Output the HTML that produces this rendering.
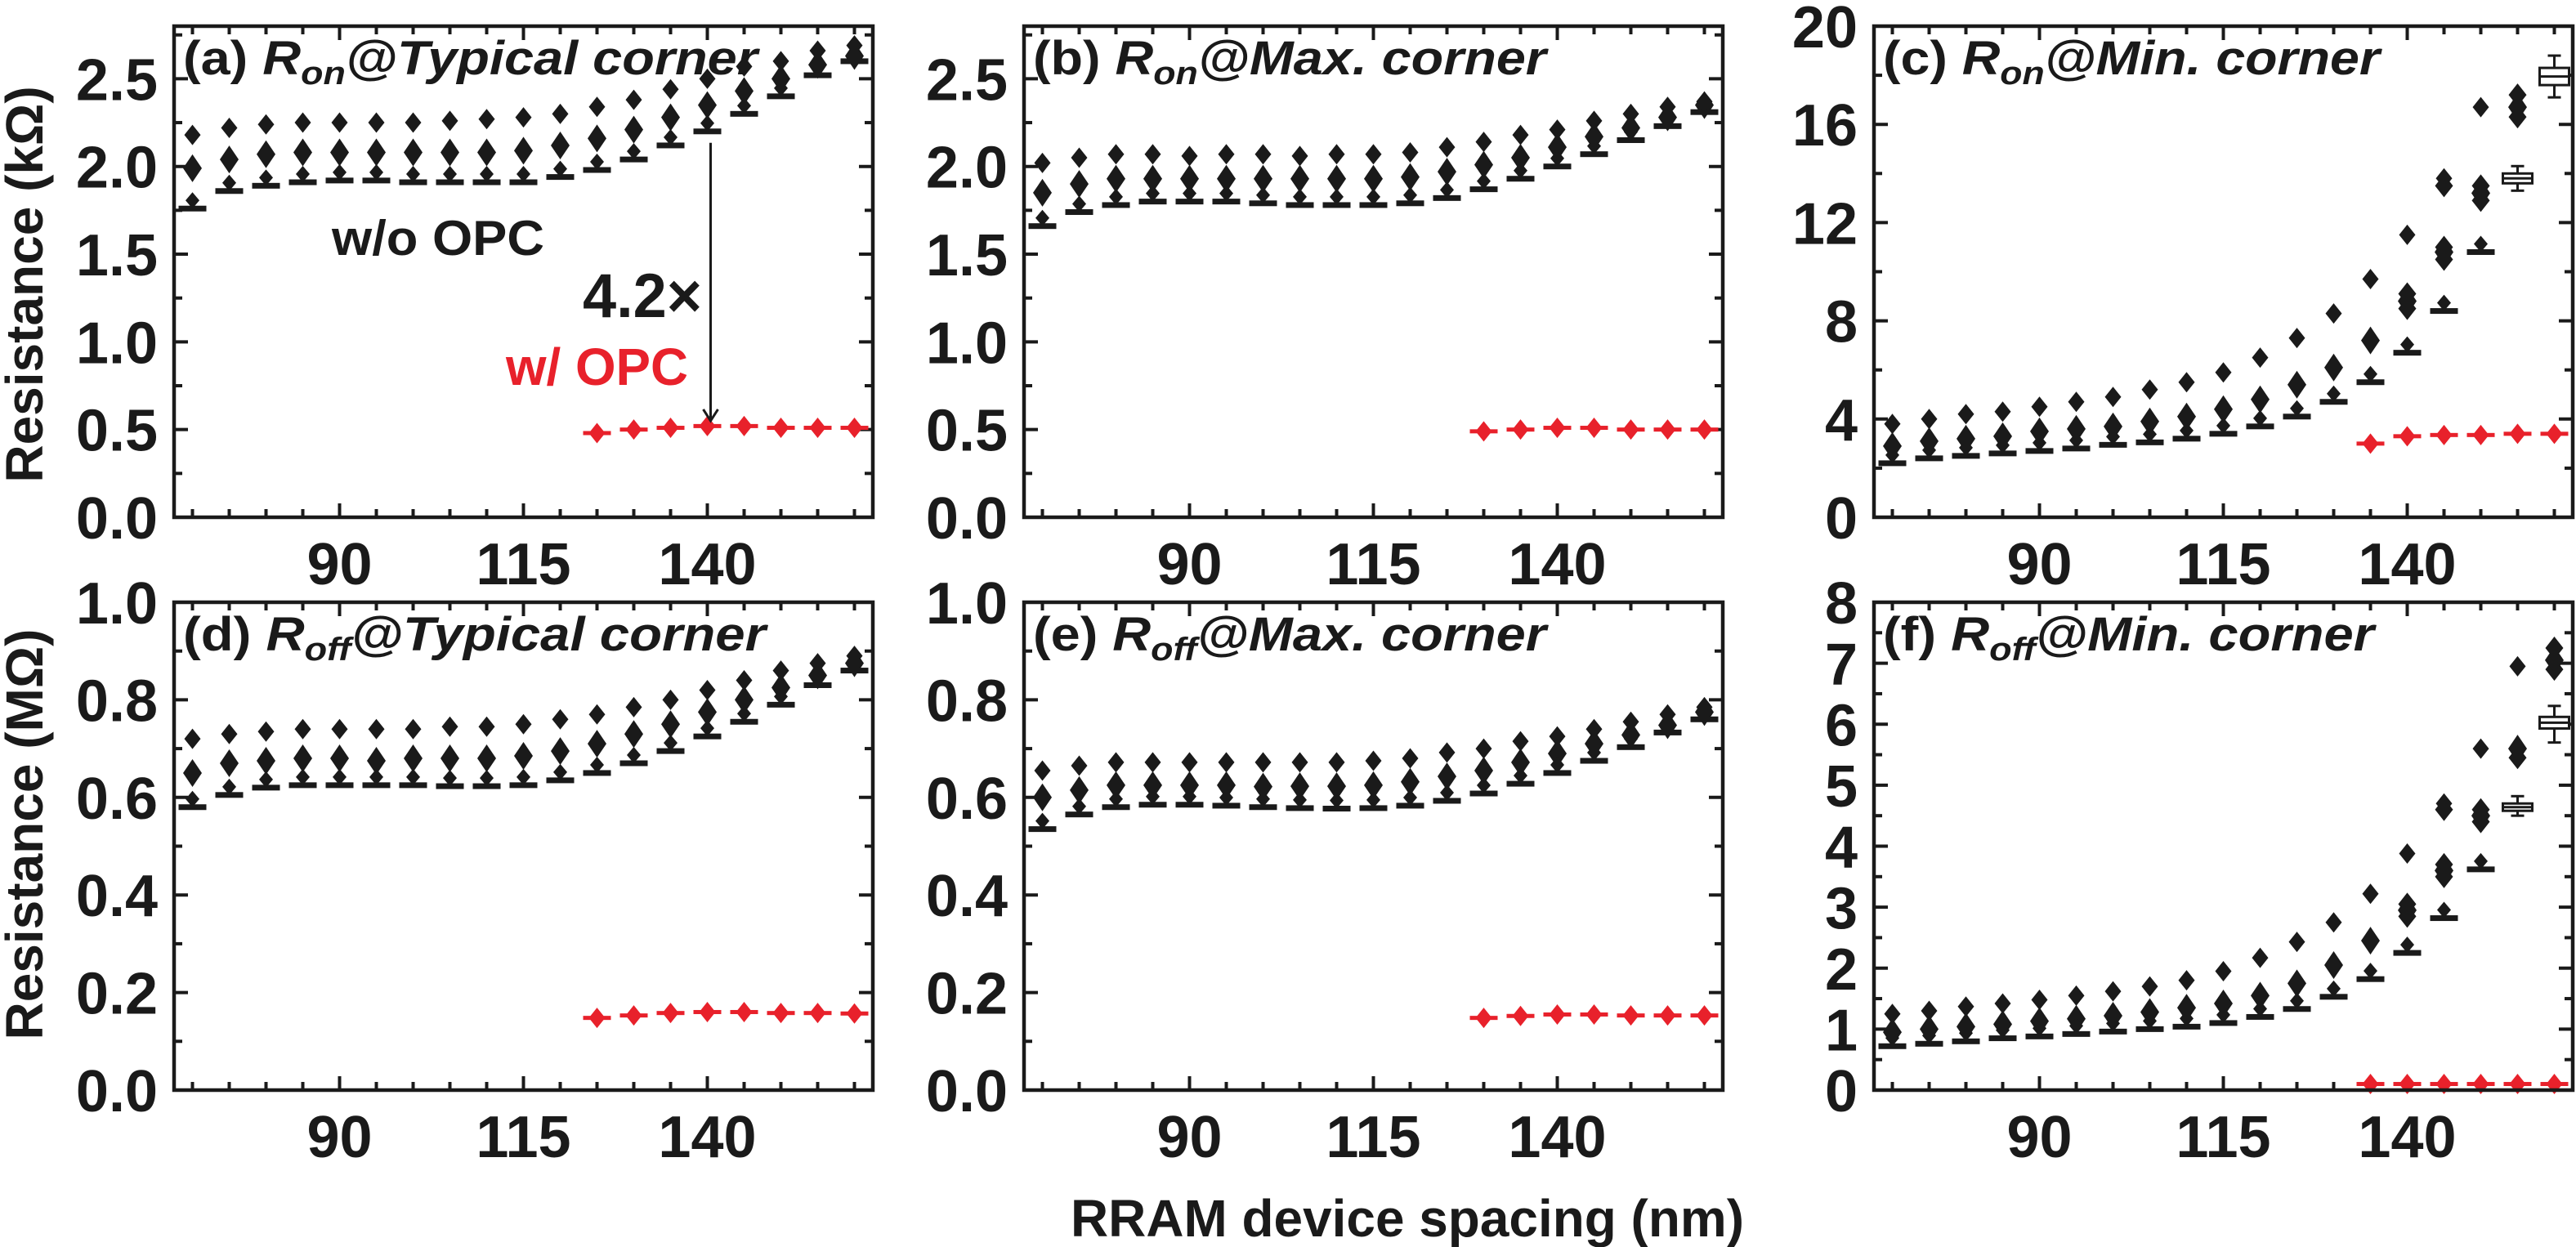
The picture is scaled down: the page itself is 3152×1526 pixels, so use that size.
<!DOCTYPE html>
<html><head><meta charset="utf-8"><style>
html,body{margin:0;padding:0;background:#fff;}
svg{display:block;font-family:"Liberation Sans",Arial,sans-serif;font-weight:bold;}
</style></head><body>
<svg id="fig" width="3152" height="1526" viewBox="0 0 3152 1526" xmlns="http://www.w3.org/2000/svg">
<rect x="0" y="0" width="3152" height="1526" fill="#fff"/>
<text x="30" y="348" transform="rotate(-90 30 348)" dy="22" text-anchor="middle" font-size="64" fill="#1a1a1a">Resistance (kΩ)</text>
<text x="30" y="1021" transform="rotate(-90 30 1021)" dy="22" text-anchor="middle" font-size="64" fill="#1a1a1a">Resistance (MΩ)</text>
<text x="1722" y="1513" text-anchor="middle" font-size="64" fill="#1a1a1a" textLength="824" lengthAdjust="spacingAndGlyphs">RRAM device spacing (nm)</text>
</svg>
<script>
const spacing = [70,75,80,85,90,95,100,105,110,115,120,125,130,135,140,145,150,155,160];
const xTickLabels = ["90","115","140"];
const xTickValues = [90,115,140];

const aBox = [1.76,1.86,1.89,1.91,1.92,1.92,1.91,1.91,1.91,1.91,1.94,1.98,2.04,2.12,2.20,2.30,2.40,2.52,2.60];
const aMid = [1.99,2.04,2.07,2.08,2.08,2.08,2.08,2.08,2.08,2.09,2.12,2.16,2.21,2.28,2.35,2.43,2.50,2.58,2.63];
const aHi  = [2.18,2.22,2.24,2.25,2.25,2.25,2.25,2.26,2.27,2.28,2.30,2.34,2.38,2.44,2.50,2.57,2.60,2.66,2.69];
const aRed = [null,null,null,null,null,null,null,null,null,null,null,0.48,0.50,0.51,0.52,0.52,0.51,0.51,0.51];

const bBox = [1.66,1.74,1.78,1.80,1.80,1.80,1.79,1.78,1.78,1.78,1.79,1.82,1.87,1.93,2.00,2.07,2.15,2.23,2.31];
const bMid = [1.85,1.90,1.93,1.93,1.93,1.93,1.93,1.93,1.93,1.93,1.94,1.97,2.01,2.05,2.11,2.17,2.22,2.28,2.35];
const bHi  = [2.02,2.05,2.07,2.07,2.06,2.07,2.07,2.06,2.07,2.07,2.08,2.11,2.14,2.18,2.21,2.26,2.30,2.34,2.37];
const bRed = [null,null,null,null,null,null,null,null,null,null,null,null,0.49,0.50,0.51,0.51,0.50,0.50,0.50];

const cBox = [2.2,2.4,2.5,2.6,2.7,2.8,2.95,3.05,3.2,3.4,3.7,4.1,4.7,5.5,6.7,8.4,10.8,13.8,17.9];
const cMid = [2.9,3.1,3.2,3.3,3.5,3.6,3.7,3.9,4.1,4.4,4.8,5.4,6.1,7.2,8.8,10.8,13.2,16.7,null];
const cHi  = [3.8,4.0,4.2,4.3,4.5,4.7,4.9,5.2,5.5,5.9,6.5,7.3,8.3,9.7,11.5,13.8,16.7,null,null];
const cRed = [null,null,null,null,null,null,null,null,null,null,null,null,null,3.0,3.3,3.35,3.35,3.4,3.4];
const cExtraX = [140,140,145,145,145,150,150,155,155];
const cExtraY = [8.5,9.1,10.5,11.0,13.5,12.9,13.5,16.3,17.2];
const cBigX = [155,160];
const cQ1 = [13.6,17.6];
const cQ3 = [14.0,18.3];
const cWlo = [13.3,17.1];
const cWhi = [14.3,18.8];

const dBox = [0.58,0.605,0.62,0.625,0.625,0.625,0.625,0.623,0.623,0.625,0.635,0.65,0.67,0.695,0.725,0.755,0.79,0.83,0.86];
const dMid = [0.65,0.67,0.675,0.68,0.68,0.675,0.68,0.68,0.68,0.685,0.695,0.71,0.73,0.75,0.775,0.80,0.825,0.85,0.875];
const dHi  = [0.72,0.73,0.735,0.74,0.74,0.74,0.74,0.745,0.745,0.75,0.76,0.77,0.785,0.80,0.82,0.84,0.86,0.875,0.89];
const dRed = [null,null,null,null,null,null,null,null,null,null,null,0.148,0.153,0.158,0.16,0.16,0.158,0.158,0.157];

const eBox = [0.535,0.565,0.58,0.585,0.585,0.583,0.58,0.578,0.577,0.578,0.583,0.593,0.608,0.628,0.65,0.675,0.703,0.733,0.76];
const eMid = [0.60,0.615,0.625,0.625,0.625,0.625,0.622,0.623,0.623,0.625,0.632,0.643,0.655,0.672,0.69,0.71,0.728,0.748,0.775];
const eHi  = [0.655,0.665,0.672,0.672,0.672,0.672,0.672,0.672,0.672,0.675,0.68,0.692,0.70,0.715,0.725,0.74,0.755,0.77,0.785];
const eRed = [null,null,null,null,null,null,null,null,null,null,null,null,0.148,0.152,0.155,0.155,0.153,0.153,0.153];

const fBox = [0.72,0.76,0.80,0.85,0.88,0.92,0.96,1.00,1.04,1.10,1.20,1.33,1.53,1.82,2.25,2.82,3.62,4.63,6.0];
const fMid = [0.95,1.00,1.04,1.08,1.13,1.17,1.22,1.28,1.35,1.42,1.55,1.75,2.05,2.45,2.95,3.60,4.50,5.60,7.05];
const fHi  = [1.25,1.30,1.37,1.42,1.48,1.55,1.62,1.70,1.80,1.95,2.17,2.43,2.75,3.22,3.88,4.70,5.60,6.95,null];
const fRed = [null,null,null,null,null,null,null,null,null,null,null,null,null,0.10,0.10,0.10,0.10,0.10,0.10];
const fExtraX = [140,140,145,145,145,150,150,155,160,160];
const fExtraY = [2.85,3.05,3.5,3.7,4.6,4.4,4.6,5.45,6.9,7.25];
const fBigX = [155,160];
const fQ1 = [4.58,5.93];
const fQ3 = [4.70,6.12];
const fWlo = [4.50,5.70];
const fWhi = [4.82,6.30];

const aYTicks = ["0.0","0.5","1.0","1.5","2.0","2.5"];
const cYTicks = ["0","4","8","12","16","20"];
const dYTicks = ["0.0","0.2","0.4","0.6","0.8","1.0"];
const fYTicks = ["0","1","2","3","4","5","6","7","8"];

const NS = "http://www.w3.org/2000/svg";
const svg = document.getElementById('fig');
const BLACK = "#1a1a1a", RED = "#e8212b";
const XMIN = 67.5, XMAX = 162.5, W = 855;

function mk(tag, attrs, parent){
  const e = document.createElementNS(NS, tag);
  for (const k in attrs) e.setAttribute(k, attrs[k]);
  (parent||svg).appendChild(e);
  return e;
}

const panels = [
  {id:'a', left:213, top:32, bottom:633, ymax:2.8, major:0.5, minor:0.25, ticks:aYTicks, box:aBox, mid:aMid, hi:aHi, red:aRed, lab:'(a) ', sub:'on', rest:'@Typical corner', tl:703},
  {id:'b', left:1253, top:32, bottom:633, ymax:2.8, major:0.5, minor:0.25, ticks:aYTicks, box:bBox, mid:bMid, hi:bHi, red:bRed, lab:'(b) ', sub:'on', rest:'@Max. corner', tl:628},
  {id:'c', left:2293, top:32, bottom:633, ymax:20, major:4, minor:2, ticks:cYTicks, box:cBox, mid:cMid, hi:cHi, red:cRed, exX:cExtraX, exY:cExtraY, bigX:cBigX, q1:cQ1, q3:cQ3, wlo:cWlo, whi:cWhi, lab:'(c) ', sub:'on', rest:'@Min. corner', tl:608},
  {id:'d', left:213, top:737, bottom:1334, ymax:1.0, major:0.2, minor:0.1, ticks:dYTicks, box:dBox, mid:dMid, hi:dHi, red:dRed, lab:'(d) ', sub:'off', rest:'@Typical corner', tl:713},
  {id:'e', left:1253, top:737, bottom:1334, ymax:1.0, major:0.2, minor:0.1, ticks:dYTicks, box:eBox, mid:eMid, hi:eHi, red:eRed, lab:'(e) ', sub:'off', rest:'@Max. corner', tl:628},
  {id:'f', left:2293, top:737, bottom:1334, ymax:8, major:1, minor:0.5, ticks:fYTicks, box:fBox, mid:fMid, hi:fHi, red:fRed, exX:fExtraX, exY:fExtraY, bigX:fBigX, q1:fQ1, q3:fQ3, wlo:fWlo, whi:fWhi, lab:'(f) ', sub:'off', rest:'@Min. corner', tl:601}
];

function diamond(g, cx, cy, w, h, fill, name){
  const p = mk('path', {d:`M${cx} ${cy-h/2}L${cx+w/2} ${cy}L${cx} ${cy+h/2}L${cx-w/2} ${cy}Z`, fill:fill}, g);
  
  
  return p;
}

panels.forEach(P => {
  const g = mk('g', {});
  
  
  const xs = v => P.left + (v - XMIN) / (XMAX - XMIN) * W;
  const ys = v => P.bottom - v / P.ymax * (P.bottom - P.top);
  const R = P.left + W;

  const tg = mk('g', {stroke:BLACK, 'stroke-width':4}, g);
  
  
  spacing.forEach(v => {
    const major = xTickValues.includes(v);
    const L = major ? 17 : 10;
    mk('line', {x1:xs(v), x2:xs(v), y1:P.bottom, y2:P.bottom-L}, tg);
    mk('line', {x1:xs(v), x2:xs(v), y1:P.top, y2:P.top+L}, tg);
  });
  const nMinor = Math.round(P.ymax / P.minor);
  for (let k = 0; k <= nMinor; k++){
    const v = k * P.minor;
    const major = Math.abs(v / P.major - Math.round(v / P.major)) < 1e-6;
    const L = major ? 17 : 10;
    mk('line', {x1:P.left, x2:P.left+L, y1:ys(v), y2:ys(v)}, tg);
    mk('line', {x1:R, x2:R-L, y1:ys(v), y2:ys(v)}, tg);
  }
  P.ticks.forEach((t, k) => {
    const v = k * P.major;
    const tx = mk('text', {x:P.left-20, y:ys(v)+26, 'text-anchor':'end', 'font-size':72, fill:BLACK}, g);
    
    
    tx.textContent = t;
  });
  xTickLabels.forEach((t, k) => {
    const tx = mk('text', {x:xs(xTickValues[k]), y:P.bottom+82, 'text-anchor':'middle', 'font-size':72, fill:BLACK}, g);
    
    
    tx.textContent = t;
  });

  spacing.forEach((x, i) => {
    const cx = xs(x);
    if (P.hi[i] != null) diamond(g, cx, ys(P.hi[i]), 20, 25, BLACK, 'outlier-high');
    if (P.mid[i] != null) diamond(g, cx, ys(P.mid[i]), 23, 34, BLACK, 'outlier-mid');
    const by = ys(P.box[i]);
    const isBig = P.bigX && P.bigX.includes(x);
    if (!isBig){
      diamond(g, cx, by-10, 17, 20, BLACK, 'outlier-low');
      const r = mk('rect', {x:cx-17, y:by-3.5, width:34, height:7, fill:BLACK}, g);
      
      
    }
  });
  if (P.exX){
    P.exX.forEach((x, k) => diamond(g, xs(x), ys(P.exY[k]), 22, 28, BLACK, 'outlier-cluster'));
  }
  if (P.bigX){
    P.bigX.forEach((x, k) => {
      const cx = xs(x);
      const bg = mk('g', {stroke:BLACK, 'stroke-width':3, fill:'#fff'}, g);
      
      
      mk('line', {x1:cx, x2:cx, y1:ys(P.whi[k]), y2:ys(P.wlo[k])}, bg);
      mk('line', {x1:cx-8, x2:cx+8, y1:ys(P.whi[k]), y2:ys(P.whi[k])}, bg);
      mk('line', {x1:cx-8, x2:cx+8, y1:ys(P.wlo[k]), y2:ys(P.wlo[k])}, bg);
      mk('rect', {x:cx-18, y:ys(P.q3[k]), width:36, height:ys(P.q1[k])-ys(P.q3[k])}, bg);
      const med = (P.q1[k] + P.q3[k]) / 2;
      mk('line', {x1:cx-18, x2:cx+18, y1:ys(med), y2:ys(med)}, bg);
    });
  }
  spacing.forEach((x, i) => {
    if (P.red[i] == null) return;
    const cx = xs(x), cy = ys(P.red[i]);
    const l = mk('rect', {x:cx-17, y:cy-2.5, width:34, height:5, fill:RED}, g);
    
    
    diamond(g, cx, cy, 20, 25, RED, 'marker-w-opc');
  });

  const fr = mk('rect', {x:P.left, y:P.top, width:W, height:P.bottom-P.top, fill:'none', stroke:BLACK, 'stroke-width':4.5}, g);
  
  

  const tt = mk('text', {x:P.left+11, y:P.top+59, 'font-size':58, fill:BLACK, textLength:P.tl, lengthAdjust:'spacingAndGlyphs'}, g);
  
  
  const s1 = mk('tspan', {}, tt); s1.textContent = P.lab;
  const s2 = mk('tspan', {'font-style':'italic'}, tt); s2.textContent = 'R';
  const s3 = mk('tspan', {'font-style':'italic', 'font-size':40, dy:12}, tt); s3.textContent = P.sub;
  const s4 = mk('tspan', {'font-style':'italic', dy:-12}, tt); s4.textContent = P.rest;

  if (P.id === 'a'){
    const ax = xs(140);
    const ar = mk('g', {stroke:BLACK, 'stroke-width':3, fill:'none'}, g);
    
    
    mk('line', {x1:ax+4, x2:ax+4, y1:ys(P.box[14])+14, y2:ys(0.55)}, ar);
    mk('path', {d:`M${ax-5} ${ys(0.55)-14}L${ax+4} ${ys(0.55)}L${ax+13} ${ys(0.55)-14}`}, ar);
    const t1 = mk('text', {x:406, y:312, 'font-size':60, fill:BLACK, textLength:260, lengthAdjust:'spacingAndGlyphs'}, g);
    
    
    t1.textContent = 'w/o OPC';
    const t2 = mk('text', {x:713, y:388, 'font-size':76, fill:BLACK, textLength:146, lengthAdjust:'spacingAndGlyphs'}, g);
    
    
    t2.textContent = '4.2×';
    const t3 = mk('text', {x:619, y:471, 'font-size':64, fill:RED, textLength:223, lengthAdjust:'spacingAndGlyphs'}, g);
    
    
    t3.textContent = 'w/ OPC';
  }
});
</script>
</body></html>
